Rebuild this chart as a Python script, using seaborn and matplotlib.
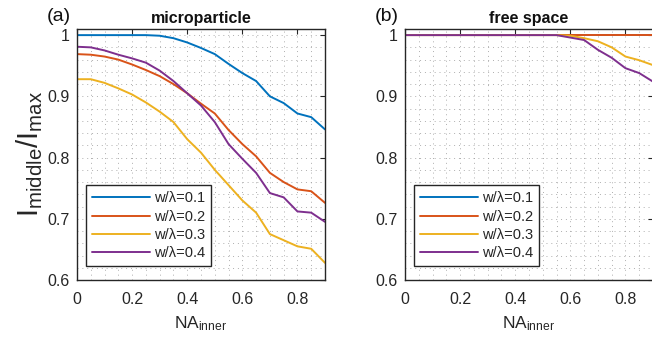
import numpy as np
import pandas as pd
import matplotlib
matplotlib.use("Agg")
import matplotlib.pyplot as plt
from matplotlib.ticker import MultipleLocator
import seaborn as sns

na_inner = [0.0, 0.05, 0.1, 0.15, 0.2, 0.25, 0.3, 0.35, 0.4, 0.45,
            0.5, 0.55, 0.6, 0.65, 0.7, 0.75, 0.8, 0.85, 0.9]
series_names = ["w/\u03bb=0.1", "w/\u03bb=0.2", "w/\u03bb=0.3", "w/\u03bb=0.4"]

micro_01 = [1.0, 1.0, 1.0, 1.0, 1.0, 1.0, 0.999, 0.995, 0.988, 0.979,
            0.969, 0.953, 0.938, 0.925, 0.900, 0.889, 0.872, 0.866, 0.846]
micro_02 = [0.969, 0.968, 0.965, 0.960, 0.952, 0.943, 0.933, 0.920, 0.905, 0.888,
            0.872, 0.845, 0.822, 0.802, 0.775, 0.760, 0.748, 0.745, 0.726]
micro_03 = [0.928, 0.928, 0.922, 0.913, 0.903, 0.890, 0.875, 0.858, 0.830, 0.808,
            0.780, 0.755, 0.730, 0.710, 0.675, 0.665, 0.655, 0.651, 0.628]
micro_04 = [0.981, 0.980, 0.975, 0.968, 0.962, 0.955, 0.942, 0.925, 0.905, 0.885,
            0.858, 0.822, 0.798, 0.775, 0.742, 0.735, 0.712, 0.710, 0.695]

free_01 = [1.0] * 19
free_02 = [1.0] * 19
free_03 = [1.0, 1.0, 1.0, 1.0, 1.0, 1.0, 1.0, 1.0, 1.0, 1.0,
           1.0, 1.0, 0.999, 0.995, 0.990, 0.980, 0.965, 0.959, 0.951]
free_04 = [1.0, 1.0, 1.0, 1.0, 1.0, 1.0, 1.0, 1.0, 1.0, 1.0,
           1.0, 1.0, 0.996, 0.992, 0.976, 0.963, 0.946, 0.938, 0.924]

colors = ["#0072BD", "#D95319", "#EDB120", "#7E2F8E"]


def make_df(vals):
    rows = []
    for name, v in zip(series_names, vals):
        for x, y in zip(na_inner, v):
            rows.append({"NA": x, "I": y, "w": name})
    return pd.DataFrame(rows)


df_micro = make_df([micro_01, micro_02, micro_03, micro_04])
df_free = make_df([free_01, free_02, free_03, free_04])

sns.set_theme(style="white")
plt.rcParams["font.family"] = ["Liberation Sans", "DejaVu Sans"]
plt.rcParams["mathtext.fontset"] = "custom"
plt.rcParams["mathtext.rm"] = "Liberation Sans"
plt.rcParams["mathtext.it"] = "Liberation Sans"

fig = plt.figure(figsize=(6.52, 3.41), dpi=100)
ax1 = fig.add_axes([77 / 652, 61 / 341, 248 / 652, 251 / 341])
ax2 = fig.add_axes([405 / 652, 61 / 341, 248 / 652, 251 / 341])

gray = "#262626"
for ax, df, title, lab in [(ax1, df_micro, "microparticle", "(a)"),
                           (ax2, df_free, "free space", "(b)")]:
    sns.lineplot(data=df, x="NA", y="I", hue="w", palette=colors,
                 linewidth=1.4, ax=ax, estimator=None, sort=False)
    ax.set_xlim(0, 0.9)
    ax.set_ylim(0.6, 1.01)
    ax.xaxis.set_major_locator(MultipleLocator(0.2))
    ax.xaxis.set_minor_locator(MultipleLocator(0.05))
    ax.yaxis.set_major_locator(MultipleLocator(0.1))
    ax.yaxis.set_minor_locator(MultipleLocator(0.02))
    ax.set_xticklabels([f"{t:g}" for t in ax.get_xticks()])
    ax.set_yticklabels([f"{t:g}" for t in ax.get_yticks()])
    ax.grid(which="both", linestyle=(0, (1, 4)), color="#9a9a9a",
            linewidth=0.7, alpha=0.8)
    ax.set_axisbelow(True)
    ax.tick_params(which="major", direction="in", length=3.5, width=0.8,
                   top=True, right=True, colors=gray, labelsize=11.5,
                   labelcolor=gray)
    ax.tick_params(axis="x", which="major", pad=9)
    ax.tick_params(axis="y", which="major", pad=5)
    ax.tick_params(which="minor", direction="in", length=0, top=True, right=True)
    for s in ax.spines.values():
        s.set_color(gray)
        s.set_linewidth(1.0)
    ax.set_title(title, fontsize=11.5, fontweight="bold", color="#111111", pad=4)
    ax.text(-0.12, 1.05, lab, transform=ax.transAxes, fontsize=14,
            color="#111111", ha="left", va="center")
    ax.set_xlabel(r"NA$_{\mathregular{inner}}$", fontsize=12.5, color=gray, labelpad=5)
    ax.set_ylabel("")
    leg = ax.legend(loc="lower left", bbox_to_anchor=(0.035, 0.055),
                    fontsize=10.5, frameon=True, fancybox=False,
                    handlelength=4.0, handletextpad=0.3, borderpad=0.4,
                    labelspacing=0.3, borderaxespad=0)
    leg.get_frame().set_edgecolor(gray)
    leg.get_frame().set_linewidth(1.0)
    leg.get_frame().set_alpha(1)
    for t in leg.get_texts():
        t.set_color(gray)

ax1.set_ylabel(r"I$_{\mathregular{middle}}$/I$_{\mathregular{max}}$",
               fontsize=21, color=gray, labelpad=2)

fig.savefig("out.png", dpi=100)
